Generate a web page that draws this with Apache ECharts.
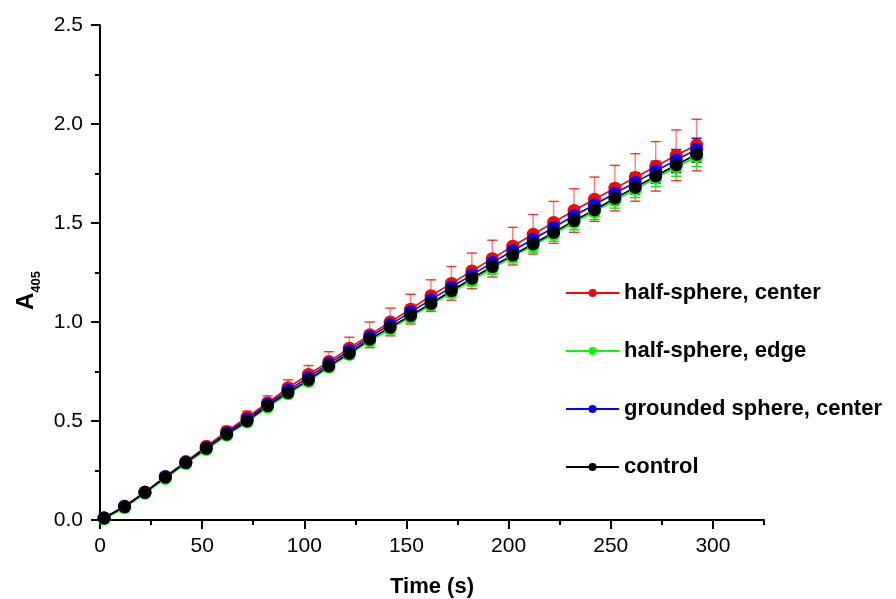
<!DOCTYPE html>
<html>
<head>
<meta charset="utf-8">
<script src="https://cdn.jsdelivr.net/npm/echarts@6/dist/echarts.min.js"></script>
<style>html,body{margin:0;padding:0;background:#fff;}#c{width:896px;height:599px;}</style>
</head>
<body>
<div id="c"></div>
<script>
const times = [2,12,22,32,42,52,62,72,82,92,102,112,122,132,142,152,162,172,182,192,202,212,222,232,242,252,262,272,282,292];
const xTickLabels = [0,50,100,150,200,250,300];
const yTickLabels = [0,0.5,1.0,1.5,2.0,2.5];
const seriesNames = ['half-sphere, center','half-sphere, edge','grounded sphere, center','control'];

const redVals   = [0.01,0.07,0.14,0.22,0.295,0.372,0.447,0.52,0.592,0.668,0.735,0.80,0.868,0.935,1.0,1.065,1.133,1.195,1.258,1.32,1.383,1.443,1.503,1.563,1.62,1.676,1.73,1.786,1.842,1.894];
const redErr    = [0.005,0.008,0.01,0.012,0.015,0.02,0.025,0.03,0.035,0.04,0.045,0.05,0.055,0.065,0.07,0.075,0.08,0.085,0.09,0.093,0.095,0.1,0.106,0.11,0.112,0.115,0.12,0.125,0.128,0.13];
const greenVals = [0.005,0.062,0.135,0.21,0.285,0.356,0.428,0.495,0.57,0.637,0.70,0.772,0.836,0.905,0.965,1.025,1.087,1.15,1.21,1.27,1.33,1.386,1.443,1.503,1.556,1.615,1.67,1.727,1.783,1.835];
const greenErr  = [0.004,0.005,0.006,0.007,0.008,0.009,0.01,0.012,0.013,0.015,0.016,0.018,0.02,0.021,0.022,0.024,0.025,0.027,0.028,0.03,0.031,0.033,0.035,0.037,0.039,0.04,0.042,0.044,0.047,0.05];
const blueVals  = [0.01,0.068,0.14,0.218,0.292,0.366,0.44,0.51,0.585,0.655,0.72,0.79,0.855,0.925,0.987,1.05,1.113,1.176,1.238,1.30,1.36,1.418,1.477,1.537,1.592,1.65,1.705,1.762,1.818,1.872];
const blueErr   = [0.004,0.005,0.006,0.007,0.008,0.009,0.01,0.012,0.013,0.015,0.016,0.018,0.02,0.022,0.024,0.026,0.028,0.03,0.032,0.034,0.036,0.038,0.04,0.042,0.044,0.046,0.048,0.05,0.053,0.056];
const blackVals = [0.01,0.067,0.14,0.216,0.29,0.362,0.433,0.50,0.577,0.643,0.707,0.778,0.842,0.913,0.973,1.033,1.094,1.158,1.22,1.28,1.338,1.394,1.452,1.512,1.566,1.625,1.68,1.737,1.793,1.847];
const blackErr  = [0.003,0.004,0.005,0.006,0.007,0.008,0.009,0.01,0.011,0.012,0.013,0.014,0.015,0.016,0.017,0.018,0.019,0.02,0.022,0.023,0.025,0.026,0.028,0.029,0.031,0.032,0.034,0.036,0.038,0.04];

const FONT = '"Liberation Sans", Arial, sans-serif';

function pairs(vals){ return times.map((t,i)=>[t, vals[i]]); }
function triples(vals, errs){ return times.map((t,i)=>[t, vals[i], errs[i]]); }

function errSeries(name, vals, errs, lineColor, capColor){
  return {
    name: name, type: 'custom', xAxisIndex: 0, yAxisIndex: 0,
    data: triples(vals, errs),
    encode: {x: 0, y: 1},
    silent: true,
    renderItem: function(params, api){
      const x = api.value(0), y = api.value(1), e = api.value(2);
      const top = api.coord([x, y + e]);
      const bot = api.coord([x, y - e]);
      const hw = 5;
      return {type: 'group', children: [
        {type: 'line', shape: {x1: top[0], y1: top[1], x2: bot[0], y2: bot[1]}, style: {stroke: lineColor, lineWidth: 1.4}},
        {type: 'line', shape: {x1: top[0]-hw, y1: top[1], x2: top[0]+hw, y2: top[1]}, style: {stroke: capColor, lineWidth: 1.4}},
        {type: 'line', shape: {x1: bot[0]-hw, y1: bot[1], x2: bot[0]+hw, y2: bot[1]}, style: {stroke: capColor, lineWidth: 1.4}}
      ]};
    }
  };
}

function lineSeries(name, vals, color){
  return {
    name: name, type: 'line', xAxisIndex: 0, yAxisIndex: 0,
    data: pairs(vals),
    symbol: 'circle', symbolSize: 13, showSymbol: true,
    lineStyle: {color: color, width: 1.6},
    itemStyle: {color: color},
    animation: false
  };
}

const chart = echarts.init(document.getElementById('c'));
chart.setOption({
  animation: false,
  backgroundColor: '#fff',
  grid: {left: 100, right: 132, top: 25, bottom: 79, containLabel: false, outerBoundsMode: 'none'},
  legend: {
    data: seriesNames,
    orient: 'vertical',
    left: 560, top: 277,
    itemWidth: 53, itemHeight: 10, itemGap: 36,
    textStyle: {fontFamily: FONT, fontSize: 22, fontWeight: 'bold', color: '#000'},
    selectedMode: false
  },
  xAxis: [
    {
      type: 'value', min: 0, max: 325, interval: 25,
      name: 'Time (s)', nameLocation: 'middle', nameGap: 56,
      nameTextStyle: {fontFamily: FONT, fontSize: 22, fontWeight: 'bold', color: '#000'},
      axisLine: {show: true, onZero: false, lineStyle: {color: '#000', width: 2}},
      axisTick: {show: true, length: 9, inside: false, lineStyle: {color: '#000', width: 2}, customValues: xTickLabels},
      axisLabel: {show: true, margin: 16, fontFamily: FONT, fontSize: 21, color: '#000', customValues: xTickLabels},
      splitLine: {show: false}
    },
    {
      type: 'value', min: 0, max: 325, interval: 25, position: 'bottom', offset: 0,
      axisLine: {show: false, onZero: false},
      axisTick: {show: true, length: 5, lineStyle: {color: '#000', width: 2}},
      axisLabel: {show: false},
      splitLine: {show: false}
    }
  ],
  yAxis: [
    {
      type: 'value', min: 0, max: 2.5, interval: 0.5,
      name: '{a|A}{s|405}', nameLocation: 'middle', nameGap: 60, nameRotate: 90,
      nameTextStyle: {
        fontFamily: FONT, color: '#000', padding: [0, 36, 0, 0],
        rich: {
          a: {fontFamily: FONT, fontSize: 24, fontWeight: 'bold', color: '#000', verticalAlign: 'bottom'},
          s: {fontFamily: FONT, fontSize: 13, fontWeight: 'bold', color: '#000', verticalAlign: 'bottom', padding: [0, 0, -5, 0]}
        }
      },
      axisLine: {show: true, onZero: false, lineStyle: {color: '#000', width: 2}},
      axisTick: {show: true, length: 9, lineStyle: {color: '#000', width: 2}},
      minorTick: {show: true, splitNumber: 2, length: 5, lineStyle: {color: '#000', width: 2}},
      axisLabel: {show: true, margin: 17, fontFamily: FONT, fontSize: 21, color: '#000', formatter: v => v.toFixed(1)},
      splitLine: {show: false},
      minorSplitLine: {show: false}
    }
  ],
  series: [
    errSeries('err-red', redVals, redErr, 'rgba(255,40,40,0.6)', 'rgba(255,0,0,0.8)'),
    lineSeries(seriesNames[0], redVals, '#ff0000'),
    errSeries('err-green', greenVals, greenErr, '#00ee00', '#00ee00'),
    lineSeries(seriesNames[1], greenVals, '#00ff00'),
    errSeries('err-blue', blueVals, blueErr, '#0000ff', '#0000ff'),
    lineSeries(seriesNames[2], blueVals, '#0000ff'),
    errSeries('err-black', blackVals, blackErr, '#000000', '#000000'),
    lineSeries(seriesNames[3], blackVals, '#000000')
  ]
});
</script>
</body>
</html>
